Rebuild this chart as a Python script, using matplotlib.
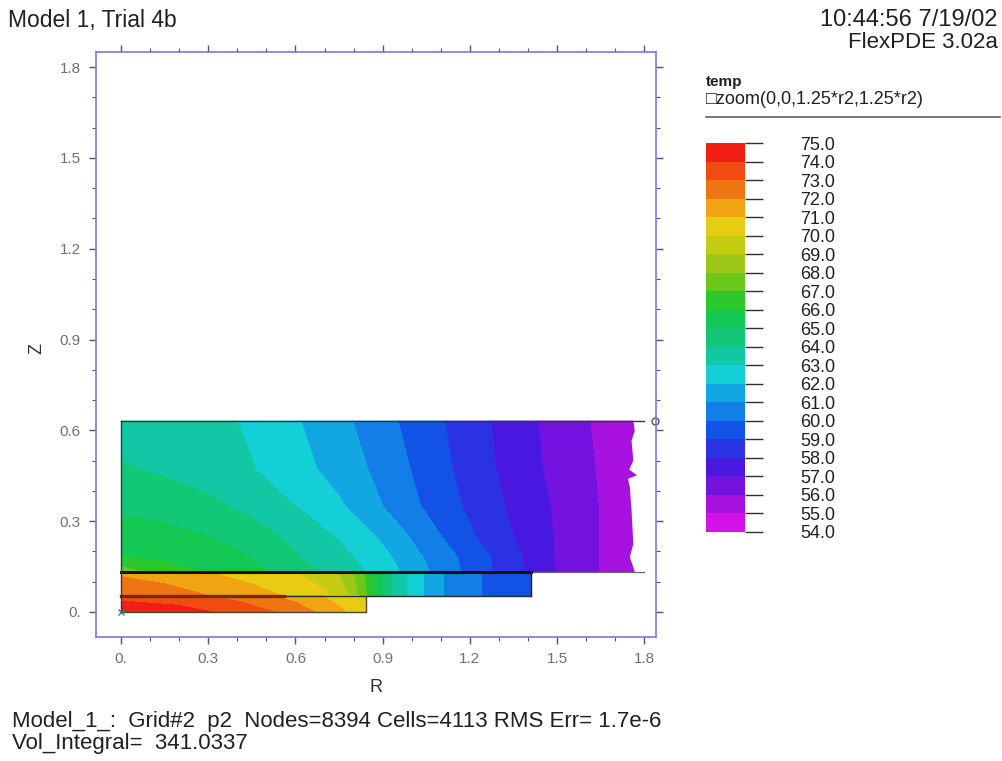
import matplotlib
matplotlib.use("Agg")
import matplotlib.pyplot as plt
import matplotlib.ticker as mticker
from matplotlib.colors import ListedColormap, BoundaryNorm
from matplotlib.cm import ScalarMappable
from matplotlib.patches import Polygon
import numpy as np

plt.rcParams["font.family"] = ["Liberation Sans", "DejaVu Sans"]

# contour levels of temp and the palette, lowest band first
levels = [54.0, 55.0, 56.0, 57.0, 58.0, 59.0, 60.0, 61.0, 62.0, 63.0, 64.0,
          65.0, 66.0, 67.0, 68.0, 69.0, 70.0, 71.0, 72.0, 73.0, 74.0, 75.0]
band_colors = ["#d412e8", "#a812e0", "#7412e0", "#4818e0", "#2a32e4", "#1252e6",
               "#127ee8", "#12a6e2", "#12d0d6", "#12c8a4", "#12c876", "#12c852",
               "#2ac82a", "#6ac81a", "#9ec818", "#c6cc12", "#e8cc12", "#f0a412",
               "#ee7612", "#f04c12", "#f01e14"]

# upper block (z from 0.132 to 0.632), temp
upper_r = [0.0, 0.15, 0.3, 0.45, 0.6, 0.75, 0.9, 1.05, 1.2, 1.35, 1.5, 1.65, 1.78]
upper_z = [0.132, 0.18, 0.25, 0.35, 0.47, 0.632]
upper_t = [
    [67.5, 66.6, 65.85, 65.3, 64.5, 63.6, 62.6, 61.1, 59.7, 58.3, 56.95, 55.95, 55.3],
    [66.05, 65.8, 65.45, 65.0, 64.1, 63.35, 62.3, 60.9, 59.65, 58.3, 56.9, 55.95, 55.3],
    [65.5, 65.3, 65.0, 64.45, 63.75, 62.9, 61.8, 60.45, 59.15, 58.0, 56.9, 55.95, 55.3],
    [64.8, 64.6, 64.25, 63.7, 63.0, 62.15, 61.0, 59.85, 58.8, 57.8, 56.85, 55.95, 55.3],
    [64.1, 63.85, 63.5, 63.05, 62.4, 61.6, 60.7, 59.6, 58.6, 57.6, 56.7, 55.9, 55.25],
    [63.6, 63.5, 63.3, 62.85, 62.1, 61.3, 60.33, 59.4, 58.45, 57.5, 56.6, 55.8, 55.2],
]
# ragged right edge of the upper block
edge_z = [0.132, 0.148, 0.181, 0.225, 0.335, 0.412, 0.44, 0.452, 0.47, 0.5, 0.566, 0.599, 0.632]
edge_r = [1.767, 1.762, 1.75, 1.762, 1.756, 1.75, 1.744, 1.775, 1.748, 1.762, 1.756, 1.767, 1.762]

# middle layer (z from 0.054 to 0.132)
mid_r = [0.0, 0.15, 0.3, 0.45, 0.6, 0.7, 0.78, 0.85, 0.93, 1.0, 1.1, 1.2, 1.3, 1.41]
mid_z = [0.054, 0.093, 0.132]
mid_t = [
    [72.6, 72.4, 72.0, 71.4, 70.8, 70.2, 69.0, 66.8, 64.0, 62.7, 61.1, 60.2, 59.7, 59.3],
    [72.3, 72.0, 71.6, 71.0, 70.4, 69.8, 68.8, 66.7, 64.0, 62.7, 61.1, 60.2, 59.7, 59.3],
    [71.8, 71.5, 71.0, 70.5, 70.0, 69.5, 68.5, 66.6, 64.0, 62.7, 61.1, 60.2, 59.7, 59.3],
]

# bottom layer (z from 0 to 0.054)
low_r = [0.0, 0.2, 0.4, 0.6, 0.75, 0.843]
low_z = [0.0, 0.027, 0.054]
low_t = [
    [74.7, 74.4, 73.7, 72.6, 71.2, 70.4],
    [74.2, 73.9, 73.2, 72.1, 70.9, 70.1],
    [73.6, 73.3, 72.6, 71.6, 70.6, 69.8],
]

heater_end = 0.56    # end of the dark contact line at z=0.054
outer_end = 1.80     # boundary lines run out to here

axis_ticks = [0.0, 0.3, 0.6, 0.9, 1.2, 1.5, 1.8]
axis_labels = ["0.", "0.3", "0.6", "0.9", "1.2", "1.5", "1.8"]

W, H = 1003, 761
fig = plt.figure(figsize=(W / 100, H / 100), dpi=100)
ax = fig.add_axes([96 / W, 1 - 637 / H, 560 / W, 585 / H])

cmap = ListedColormap(band_colors)
norm = BoundaryNorm(levels, cmap.N)

cs_up = ax.contourf(upper_r, upper_z, np.array(upper_t), levels=levels, colors=band_colors)
outline = [(0.0, upper_z[0])] + list(zip(edge_r, edge_z)) + [(0.0, upper_z[-1])]
clip = Polygon(outline, closed=True, transform=ax.transData, facecolor="none", edgecolor="none")
ax.add_patch(clip)
cs_up.set_clip_path(clip)

ax.contourf(mid_r, mid_z, np.array(mid_t), levels=levels, colors=band_colors)
ax.contourf(low_r, low_z, np.array(low_t), levels=levels, colors=band_colors)

# region boundaries
z_top, z_mid, z_low = upper_z[-1], mid_z[-1], mid_z[0]
ax.plot([0, outer_end], [z_top, z_top], color="#2a3a3a", lw=1.0)
ax.plot([mid_r[-1], outer_end], [z_mid, z_mid], color="#6a6a6a", lw=0.9)
ax.plot([0, mid_r[-1]], [z_mid, z_mid], color="#101010", lw=2.2)
ax.plot([mid_r[-1], mid_r[-1]], [z_low, z_mid], color="#202020", lw=1.0)
ax.plot([heater_end, mid_r[-1]], [z_low, z_low], color="#203030", lw=1.0)
ax.plot([0, heater_end], [z_low, z_low], color="#7a2800", lw=2.4)
ax.plot([0, low_r[-1], low_r[-1]], [0, 0, z_low], color="#404a30", lw=1.0)
ax.plot([0, 0], [0, z_top], color="#2a3a3a", lw=1.0)
ax.plot([0], [0], marker="x", ms=4, color="#3a7a7a", mew=1.0)
ax.plot([1.837], [z_top], marker="o", ms=5, mfc="none", mec="#505050", mew=1.0, clip_on=False)

ax.set_xlim(-0.086, 1.840)
ax.set_ylim(-0.0826, 1.850)

spine_col = "#7878e6"
for s in ax.spines.values():
    s.set_color(spine_col)
    s.set_linewidth(1.2)

ax.set_xticks(axis_ticks)
ax.set_xticklabels(axis_labels)
ax.set_yticks(axis_ticks)
ax.set_yticklabels(axis_labels)
ax.xaxis.set_minor_locator(mticker.MultipleLocator(0.1))
ax.yaxis.set_minor_locator(mticker.MultipleLocator(0.1))
ax.tick_params(which="both", direction="out", color="#505078", top=True, right=True,
               labelcolor="#707070", labelsize=11)
ax.tick_params(which="major", length=5, width=1.0, pad=6)
ax.tick_params(which="minor", length=3, width=0.8)

fig.text(376 / W, 1 - 688 / H, "R", fontsize=13, color="#303030", ha="center", va="center")
fig.text(37 / W, 1 - 348 / H, "Z", fontsize=13, color="#303030", ha="center", va="center",
         rotation=90)

# colour legend
cax = fig.add_axes([706 / W, 1 - 532 / H, 39 / W, 389 / H])
cb = fig.colorbar(ScalarMappable(norm=norm, cmap=cmap), cax=cax, ticks=levels)
cb.outline.set_visible(False)
cb.ax.set_yticklabels([f"{v:.1f}" for v in levels])
cb.ax.tick_params(length=13, width=1.0, color="#303030", pad=27, labelsize=13,
                  labelcolor="#202020")

fig.text(706 / W, 1 - 82 / H, "temp", fontsize=11, color="#202020", va="center",
         fontweight="bold")
fig.text(706 / W, 1 - 100 / H, "\u25a1zoom(0,0,1.25*r2,1.25*r2)", fontsize=13,
         color="#202020", va="center")
fig.add_artist(plt.Line2D([706 / W, 1000 / W], [1 - 117 / H, 1 - 117 / H],
                          color="#606060", lw=1.2))

fig.text(8 / W, 1 - 20 / H, "Model 1, Trial 4b", fontsize=16.5, color="#202020", va="center")
fig.text(998 / W, 1 - 20 / H, "10:44:56 7/19/02", fontsize=17, color="#202020",
         va="center", ha="right")
fig.text(998 / W, 1 - 42 / H, "FlexPDE 3.02a", fontsize=16, color="#202020",
         va="center", ha="right")
fig.text(12 / W, 1 - 722 / H,
         "Model_1_:  Grid#2  p2  Nodes=8394 Cells=4113 RMS Err= 1.7e-6",
         fontsize=16, color="#202020", va="center")
fig.text(12 / W, 1 - 744 / H, "Vol_Integral=  341.0337", fontsize=16, color="#202020",
         va="center")

fig.savefig("out.png", dpi=100)
